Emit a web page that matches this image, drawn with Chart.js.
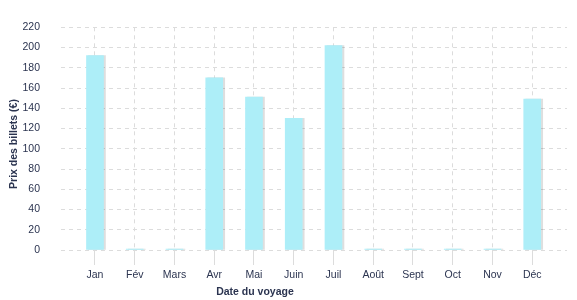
<!DOCTYPE html>
<html>
<head>
<meta charset="utf-8">
<script src="https://cdn.jsdelivr.net/npm/chart.js@4/dist/chart.umd.min.js"></script>
<style>
  html, body { margin: 0; padding: 0; background: #fff; }
  #wrap { width: 577px; height: 300px; }
</style>
</head>
<body>
<div id="wrap"><canvas id="chart"></canvas></div>
<script>
// data
var months = ["Jan", "Fév", "Mars", "Avr", "Mai", "Juin", "Juil", "Août", "Sept", "Oct", "Nov", "Déc"];
var prices = [192, 1, 1, 170, 151, 130, 202, 1, 1, 1, 1, 149];
var yTitle = "Prix des billets (€)";
var xTitle = "Date du voyage";

var textColor = '#2b3450';
var gridColor = '#dcdcdc';
var font = "'Liberation Sans', Arial, sans-serif";

var points = prices.map(function (v, i) { return { x: i, y: v }; });

// bars get a small grey shadow on the right like the original
var barShadow = {
    id: 'barShadow',
    beforeDatasetsDraw: function (chart) {
        var c = chart.ctx;
        c.save();
        c.shadowColor = 'rgba(0,0,0,0.13)';
        c.shadowOffsetX = 2;
        c.shadowOffsetY = 0;
        c.shadowBlur = 0;
    },
    afterDatasetsDraw: function (chart) {
        chart.ctx.restore();
    }
};

// axis titles are placed off-centre in the reference, so draw them here
var axisTitles = {
    id: 'axisTitles',
    afterDraw: function (chart) {
        var c = chart.ctx;
        c.save();
        c.fillStyle = textColor;
        c.font = "bold 10.5px " + font;
        c.textAlign = 'center';
        c.textBaseline = 'middle';
        c.fillText(xTitle, 255, 292);
        c.translate(14, 144);
        c.rotate(-Math.PI / 2);
        c.fillText(yTitle, 0, 0);
        c.restore();
    }
};

var ctx = document.getElementById('chart').getContext('2d');
var chart = new Chart(ctx, {
    type: 'bar',
    data: {
        datasets: [{
            data: points,
            backgroundColor: '#adeef8',
            borderWidth: 0,
            barThickness: 17
        }]
    },
    options: {
        responsive: true,
        maintainAspectRatio: false,
        animation: false,
        layout: { padding: { top: 7, right: 10 } },
        plugins: {
            legend: { display: false },
            tooltip: { enabled: false }
        },
        scales: {
            x: {
                type: 'linear',
                offset: false,
                min: -0.855,
                max: 11.875,
                afterFit: function (s) { s.height = 50; },
                afterBuildTicks: function (s) {
                    s.ticks = s.ticks.filter(function (t) {
                        return t.value >= 0 && t.value < months.length;
                    });
                },
                grid: {
                    offset: false,
                    color: gridColor,
                    tickColor: gridColor,
                    tickLength: 15,
                    drawTicks: true
                },
                border: { display: false, dash: [4, 4] },
                ticks: {
                    stepSize: 1,
                    includeBounds: false,
                    padding: 4,
                    color: textColor,
                    font: { family: font, size: 10.5 },
                    maxRotation: 0,
                    autoSkip: false,
                    callback: function (v) { return months[v]; }
                }
            },
            y: {
                min: 0,
                max: 220,
                afterFit: function (s) { s.width = 61; },
                grid: { color: gridColor, drawTicks: false },
                border: { display: false, dash: [4, 4] },
                ticks: {
                    stepSize: 20,
                    padding: 21,
                    color: textColor,
                    font: { family: font, size: 10.5 }
                }
            }
        }
    },
    plugins: [barShadow, axisTitles]
});
</script>
</body>
</html>
